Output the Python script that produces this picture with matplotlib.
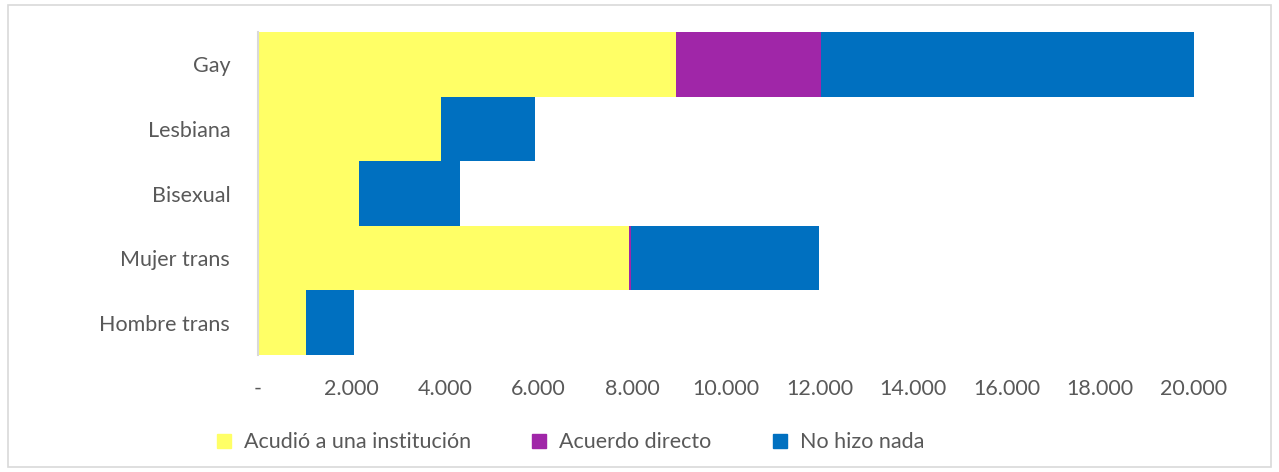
import matplotlib.pyplot as plt
import matplotlib.patches as mpatches
from matplotlib.ticker import FuncFormatter

plt.rcParams['font.family'] = ['Lato', 'DejaVu Sans']

categories = ["Gay", "Lesbiana", "Bisexual", "Mujer trans", "Hombre trans"]
institucion = [8930, 3920, 2150, 7930, 1020]
acuerdo = [3100, 0, 0, 40, 0]
nada = [7970, 1990, 2160, 4030, 1030]

series_names = ["Acudió a una institución", "Acuerdo directo", "No hizo nada"]
colors = ["#FFFF66", "#A026A8", "#0070C0"]
text_color = "#595959"

fig = plt.figure(figsize=(12.79, 4.72), dpi=100)
ax = fig.add_axes([0.2017, 0.248, 0.7317, 0.684])

y = list(range(len(categories)))
left = [0] * len(categories)
for vals, color, name in zip([institucion, acuerdo, nada], colors, series_names):
    ax.barh(y, vals, left=left, height=1.0, color=color, label=name)
    left = [l + v for l, v in zip(left, vals)]

ax.set_ylim(len(categories) - 0.5, -0.5)
ax.set_xlim(0, 20000)
ax.set_xticks(range(0, 20001, 2000))
ax.xaxis.set_major_formatter(FuncFormatter(
    lambda v, p: "-" if v == 0 else f"{int(v):,}".replace(",", ".")))
ax.set_yticks(y)
ax.set_yticklabels(categories)

for s in ["top", "right", "bottom"]:
    ax.spines[s].set_visible(False)
ax.spines["left"].set_color("#D9D9D9")
ax.spines["left"].set_linewidth(1.5)
ax.tick_params(axis="both", length=0, labelsize=15.5, colors=text_color)
ax.tick_params(axis="x", pad=17)
ax.tick_params(axis="y", pad=20)

handles = [mpatches.Patch(color=c, label=n) for c, n in zip(colors, series_names)]
leg = fig.legend(handles=handles, loc="center", bbox_to_anchor=(0.446, 0.063),
                 ncol=3, frameon=False, fontsize=15.5, handlelength=0.65,
                 handleheight=0.65, columnspacing=2.85, handletextpad=0.6)
for t in leg.get_texts():
    t.set_color(text_color)

fig.patches.append(mpatches.Rectangle((0.006, 0.01), 0.988, 0.98, transform=fig.transFigure,
                                      fill=False, edgecolor="#D9D9D9", linewidth=1.2))

fig.savefig("out.png", dpi=100)
